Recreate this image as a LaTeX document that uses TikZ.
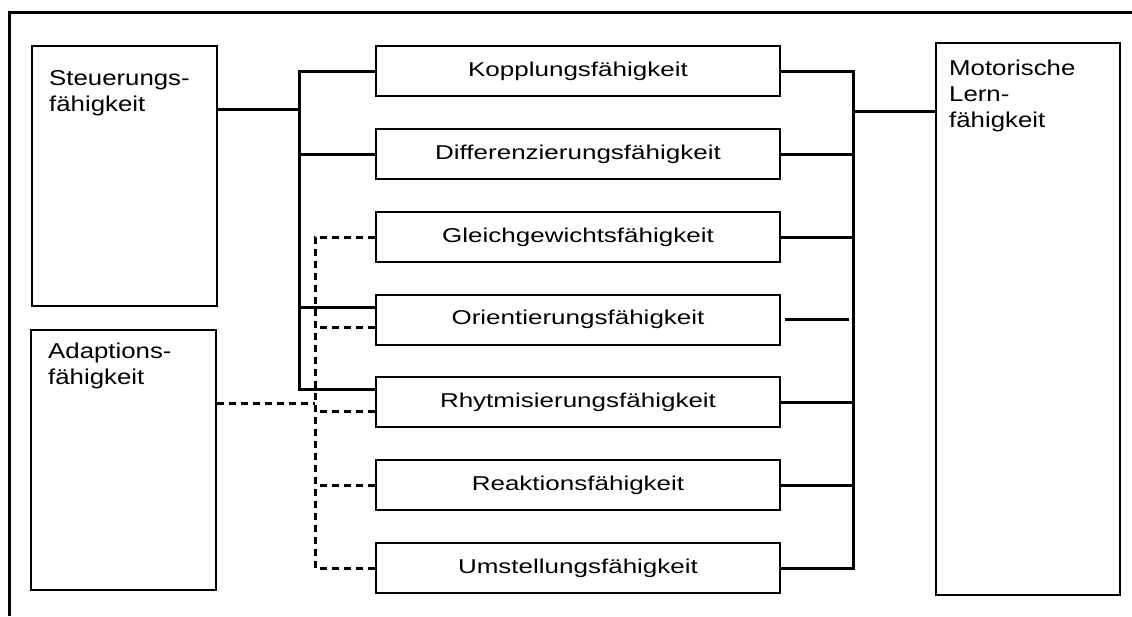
\documentclass[tikz,border=0pt]{standalone}
\usepackage{fontspec}
\setmainfont{Liberation Sans}
\newfontfamily\midfont[FakeStretch=1.3]{Liberation Sans}
\newfontfamily\sidefont[FakeStretch=1.2]{Liberation Sans}
\begin{document}
\begin{tikzpicture}[x=1pt,y=-1pt,
  midbox/.style={draw,line width=2pt,minimum width=404pt,minimum height=50pt,inner sep=0pt,
    font=\midfont\fontsize{20}{26}\selectfont},
  sidebox/.style={draw,line width=2pt,minimum width=185pt,inner sep=0pt},
  sidelabel/.style={anchor=base west,align=left,inner sep=0pt,
    font=\sidefont\fontsize{21.5}{26}\selectfont},
  conn/.style={line width=3pt},
  dconn/.style={line width=3pt,dash pattern=on 7pt off 5pt},
  frameline/.style={line width=3pt}]
\useasboundingbox (0,0) rectangle (1132,616);
% frame
\draw[frameline] (9,616) -- (9,12) -- (1132,12);
% side boxes
\node[sidebox,minimum height=260pt] (steu) at (124.5,176) {};
\node[sidebox,minimum height=260pt] (adap) at (123.5,460) {};
\node[draw,line width=2pt,minimum width=184pt,minimum height=552pt,inner sep=0pt] (mot) at (1028,319) {};
\node[sidelabel] (steut) at (49,111) {Steuerungs-\\fähigkeit};
\node[sidelabel] (adapt) at (48,384) {Adaptions-\\fähigkeit};
\node[sidelabel] (mott) at (949,127) {Motorische\\Lern-\\fähigkeit};
% middle boxes
\node[midbox] (kop) at (578,71) {Kopplungsfähigkeit};
\node[midbox] (dif) at (578,154) {Differenzierungsfähigkeit};
\node[midbox] (gle) at (578,237) {Gleichgewichtsfähigkeit};
\node[midbox] (ori) at (578,319.5) {Orientierungsfähigkeit};
\node[midbox] (rhy) at (578,402) {Rhytmisierungsfähigkeit};
\node[midbox] (rea) at (578,485) {Reaktionsfähigkeit};
\node[midbox] (ums) at (578,568) {Umstellungsfähigkeit};
% helper coordinates
\coordinate (lx) at (299,0);
\coordinate (dx) at (315,0);
\coordinate (rx) at (853,0);
\coordinate (ls) at (299,109);
\coordinate (ad) at (315,403);
\coordinate (mA) at (853,111);
\coordinate (oriA) at ([yshift=12.5pt]ori.west);
\coordinate (oriB) at ([yshift=-7.5pt]ori.west);
\coordinate (rhyA) at ([yshift=13pt]rhy.west);
\coordinate (rhyB) at ([yshift=-9pt]rhy.west);
% left solid
\draw[conn] (steu.east |- ls) -- (ls);
\draw[conn] (kop.west) -| (lx |- rhyA) -- (rhyA);
\draw[conn] (dif.west) -- (dif.west -| lx);
\draw[conn] (oriA) -- (oriA -| lx);
% left dashed
\draw[dconn] (gle.west) -| (dx |- ums.west) -- (ums.west);
\draw[dconn] (oriB) -- (oriB -| dx);
\draw[dconn] (rhyB) -- (rhyB -| dx);
\draw[dconn] (rea.west) -- (rea.west -| dx);
\draw[dconn] (adap.east |- ad) -- (ad);
% right solid
\draw[conn] (kop.east) -| (rx |- ums.east) -- (ums.east);
\draw[conn] (dif.east) -- (dif.east -| rx);
\draw[conn] (gle.east) -- (gle.east -| rx);
\draw[conn] (rhy.east) -- (rhy.east -| rx);
\draw[conn] (rea.east) -- (rea.east -| rx);
\draw[conn] ([xshift=4pt]ori.east) -- ([xshift=-4pt]ori.east -| rx);
\draw[conn] (mA) -- (mot.west |- mA);
\end{tikzpicture}
\end{document}
